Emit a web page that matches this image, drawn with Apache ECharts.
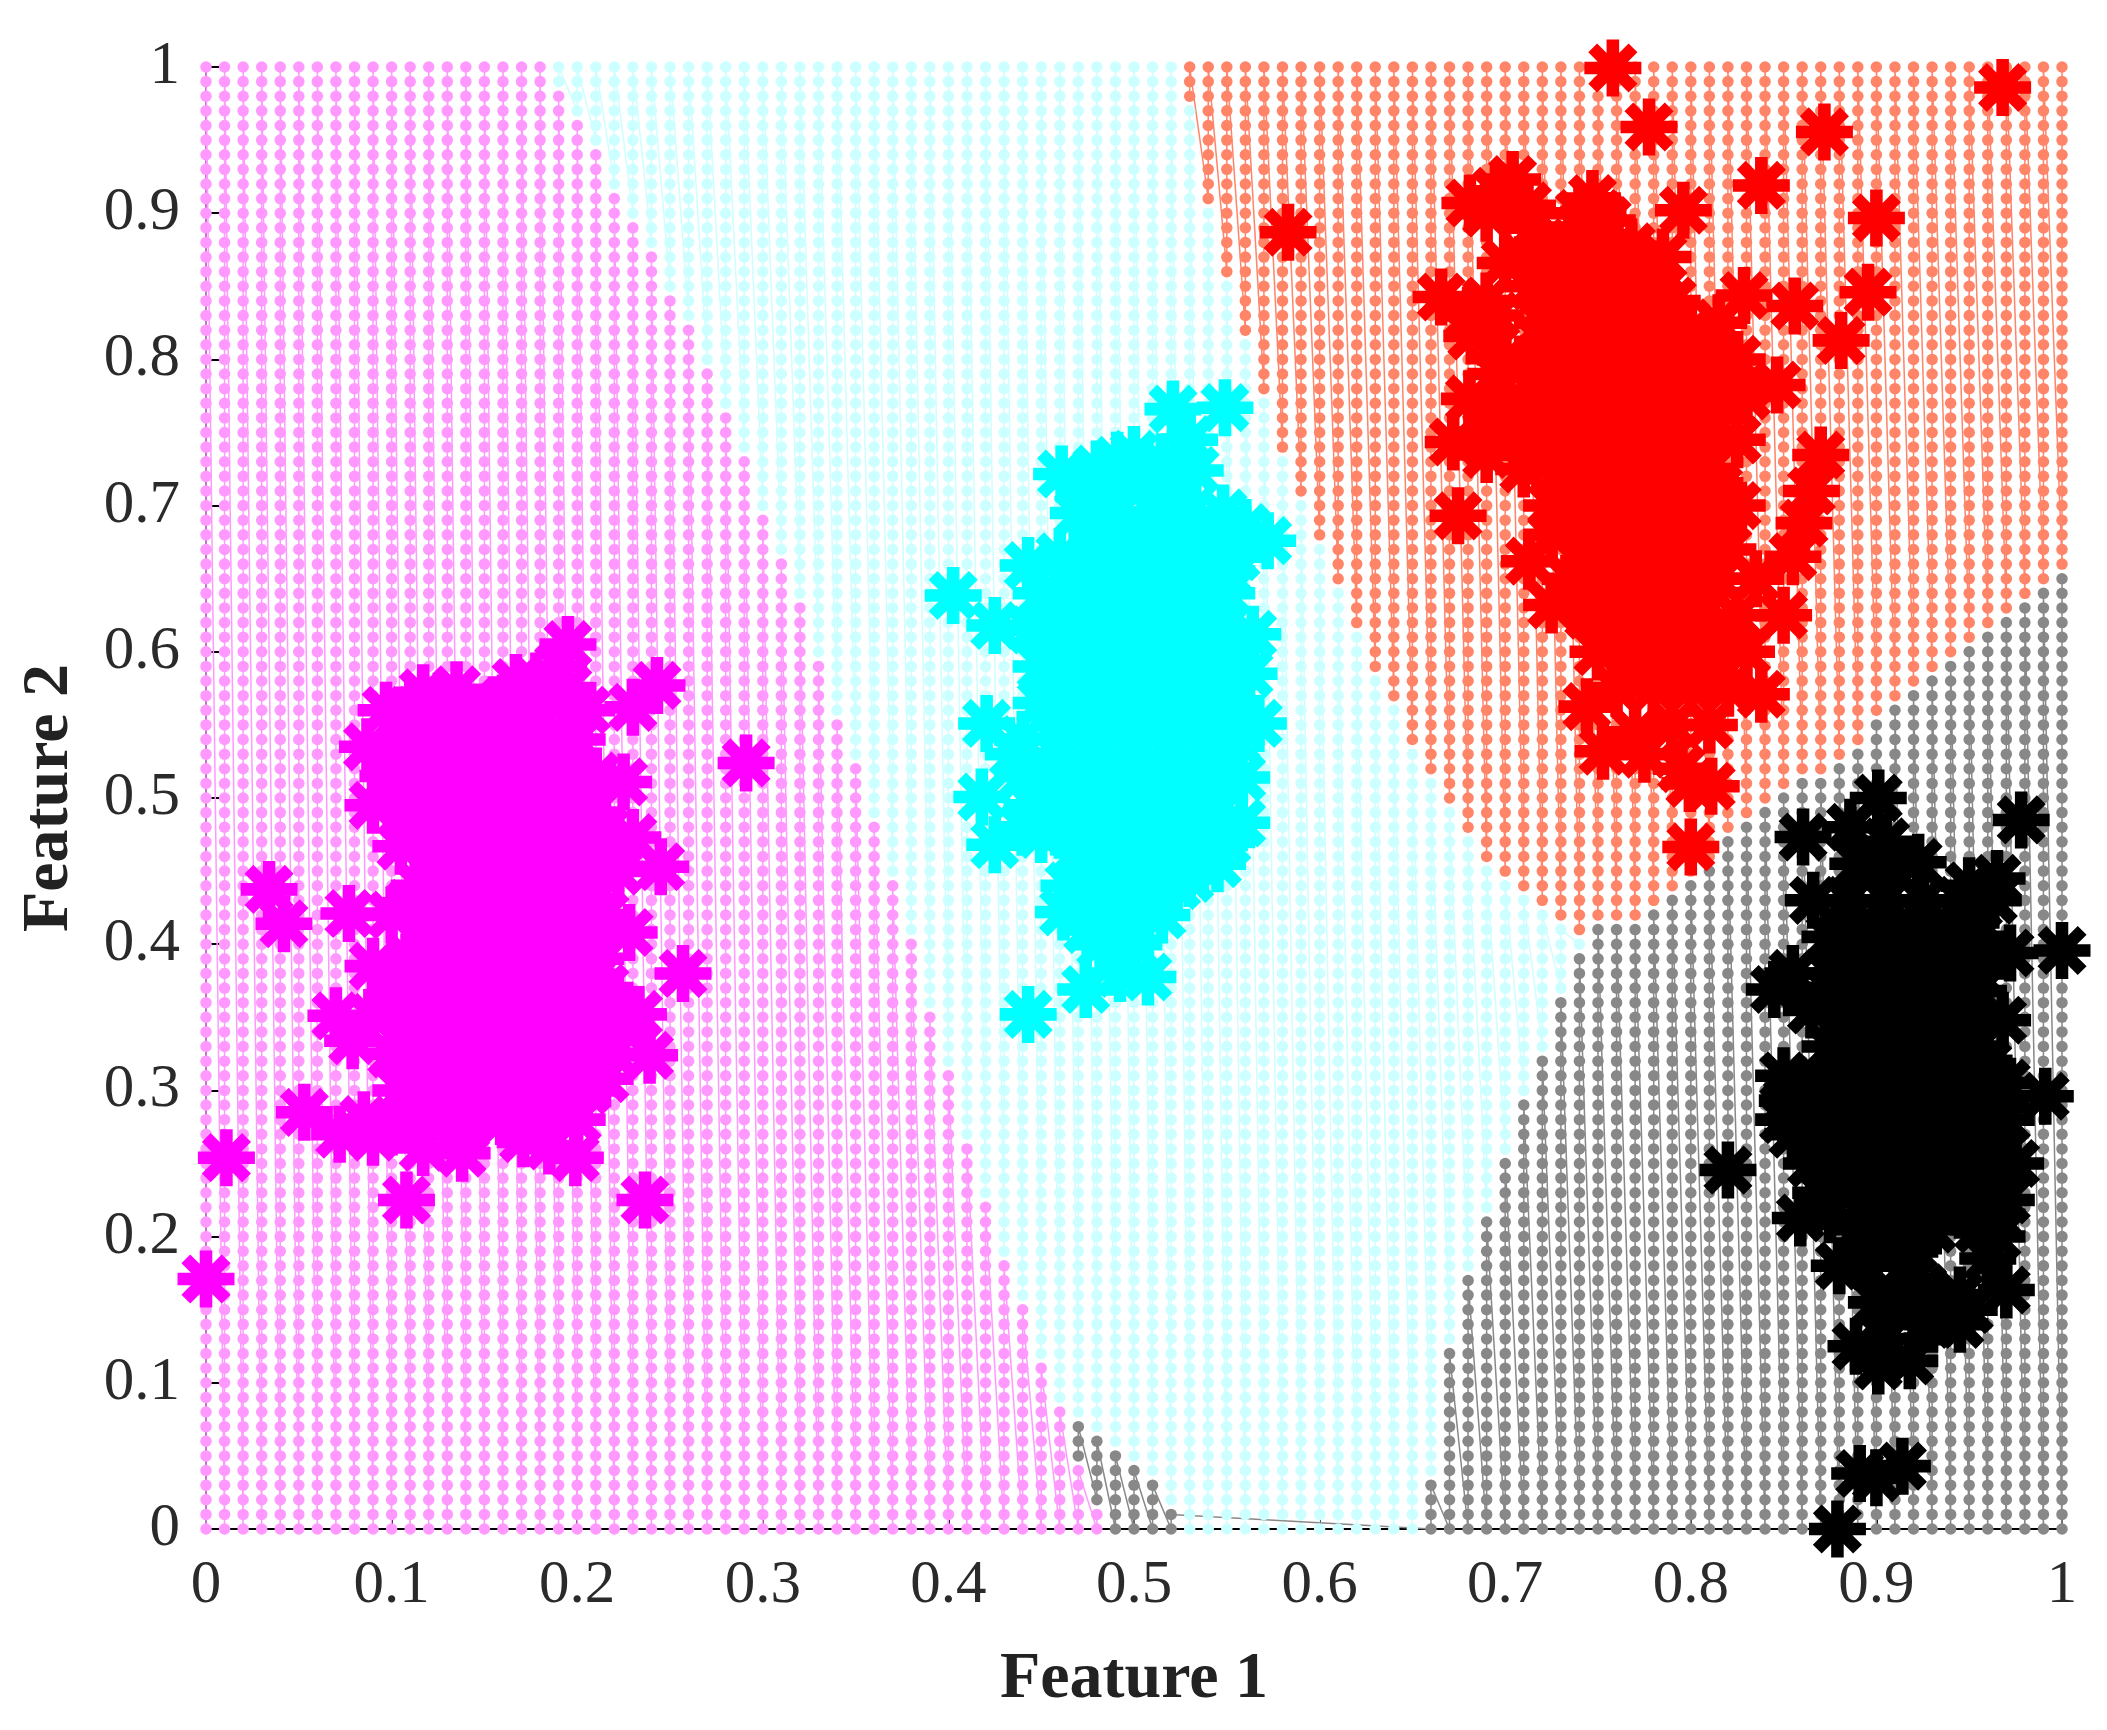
<!DOCTYPE html>
<html>
<head>
<meta charset="utf-8">
<title>Feature scatter</title>
<script src="https://cdn.jsdelivr.net/npm/echarts@6/dist/echarts.min.js"></script>
<style>
html, body { margin: 0; padding: 0; background: #fff; }
#chart { width: 2107px; height: 1730px; }
</style>
</head>
<body>
<div id="chart"></div>
<script>
// decision regions, one entry per grid column (feature 1 = 0.00 .. 1.00), in hundredths of feature 2. -1 = column has none
var magentaTop = [100,100,100,100,100,100,100,100,100,100,100,100,100,100,100,100,100,100,100,
    98,96,94,91,89,87,84,82,79,76,73,69,66,63,59,55,52,48,44,40,35,31,26,22,18,15,11,8,4,1,
    -1,-1,-1,-1,-1,-1,-1,-1,-1,-1,-1,-1,-1,-1,-1,-1,-1,-1,-1,-1,-1,-1,-1,-1,-1,-1,
    -1,-1,-1,-1,-1,-1,-1,-1,-1,-1,-1,-1,-1,-1,-1,-1,-1,-1,-1,-1,-1,-1,-1,-1,-1,-1];
var greyTop = [-1,-1,-1,-1,-1,-1,-1,-1,-1,-1,-1,-1,-1,-1,-1,-1,-1,-1,-1,-1,-1,-1,-1,-1,-1,
    -1,-1,-1,-1,-1,-1,-1,-1,-1,-1,-1,-1,-1,-1,-1,-1,-1,-1,-1,-1,-1,-1,
    7,6,5,4,3,1,-1,-1,-1,-1,-1,-1,-1,-1,-1,-1,-1,-1,-1,
    3,12,17,21,25,29,32,36,39,41,41,41,42,43,44,45,47,48,49,50,51,51,52,53,
    55,56,57,58,59,60,61,62,63,64,65];
var orangeBottom = [101,101,101,101,101,101,101,101,101,101,101,101,101,101,101,101,101,101,101,101,
    101,101,101,101,101,101,101,101,101,101,101,101,101,101,101,101,101,101,101,101,
    101,101,101,101,101,101,101,101,101,101,101,101,101,
    98,91,86,82,78,74,71,68,65,62,59,57,54,52,50,48,46,45,44,43,42,41,42,42,42,43,44,45,46,
    48,49,50,51,52,52,53,54,56,57,58,59,60,61,62,63,64,65,66];

// training samples [feature 1, feature 2]
var magentaStars = [
    [.097,.56],[.117,.572],[.135,.574],[.15,.555],[.167,.579],[.185,.565],[.195,.605],[.205,.56],[.23,.562],[.243,.577],
    [.11,.56],[.125,.56],[.14,.56],[.16,.565],[.175,.565],[.195,.575],[.19,.59],[.178,.58],
    [.087,.535],[.105,.54],[.125,.545],[.145,.535],[.165,.545],[.185,.54],[.2,.54],
    [.098,.515],[.115,.515],[.135,.515],[.155,.515],[.175,.515],[.195,.51],[.21,.515],[.225,.511],
    [.09,.495],[.108,.49],[.128,.49],[.148,.49],[.168,.49],[.188,.49],[.208,.49],
    [.105,.467],[.125,.465],[.145,.465],[.165,.465],[.185,.465],[.205,.465],[.222,.47],[.23,.473],[.245,.453],
    [.115,.44],[.135,.44],[.155,.44],[.175,.44],[.195,.44],[.21,.44],[.222,.45],
    [.077,.421],[.1,.42],[.12,.415],[.14,.415],[.16,.415],[.18,.415],[.2,.415],[.215,.42],[.228,.408],
    [.09,.385],[.11,.39],[.13,.39],[.15,.39],[.17,.39],[.19,.39],[.21,.39],
    [.1,.365],[.12,.365],[.14,.365],[.16,.365],[.18,.365],[.2,.365],[.215,.37],
    [.07,.351],[.09,.35],[.11,.345],[.13,.342],[.15,.342],[.17,.342],[.19,.342],[.21,.345],[.233,.352],
    [.079,.334],[.1,.325],[.12,.32],[.14,.32],[.16,.32],[.18,.32],[.2,.32],[.22,.325],[.239,.324],
    [.105,.3],[.125,.295],[.145,.295],[.165,.295],[.185,.295],[.205,.3],
    [.053,.285],[.085,.28],[.1,.275],[.12,.278],[.14,.275],[.16,.28],[.18,.28],[.2,.28],
    [.072,.27],[.09,.268],[.117,.261],[.138,.257],[.171,.267],[.199,.254],[.185,.262],
    [0,.171],[.011,.254],[.108,.225],[.2365,.225],[.291,.524],[.257,.38],[.034,.4375],[.042,.414]
];
var cyanStars = [
    [.461,.7216],[.478,.71],[.491,.731],[.505,.72],[.533,.724],[.52,.71],[.521,.766],[.549,.767],[.53,.745],
    [.47,.715],[.48,.725],[.5,.735],[.515,.73],[.49,.715],
    [.47,.695],[.49,.695],[.51,.695],[.53,.695],[.548,.695],[.56,.685],[.572,.676],
    [.443,.659],[.46,.665],[.48,.668],[.5,.668],[.52,.668],[.54,.668],[.555,.665],
    [.4026,.6385],[.45,.64],[.47,.64],[.49,.64],[.51,.64],[.53,.64],[.55,.64],
    [.425,.618],[.445,.615],[.465,.615],[.485,.615],[.505,.615],[.525,.615],[.545,.615],[.564,.612],
    [.45,.59],[.47,.59],[.49,.59],[.51,.59],[.53,.59],[.55,.59],[.562,.585],
    [.45,.565],[.47,.565],[.49,.565],[.51,.565],[.53,.565],[.55,.565],
    [.4206,.551],[.435,.53],[.44,.54],[.46,.54],[.48,.54],[.5,.54],[.52,.54],[.54,.54],[.567,.551],[.555,.54],
    [.44,.515],[.45,.515],[.47,.515],[.49,.515],[.51,.515],[.53,.515],[.558,.514],[.545,.515],
    [.418,.5007],[.445,.495],[.465,.49],[.485,.49],[.505,.49],[.525,.49],[.545,.49],[.558,.483],
    [.425,.468],[.44,.48],[.45,.475],[.47,.465],[.49,.465],[.51,.465],[.53,.465],[.537,.457],[.55,.47],[.545,.455],
    [.465,.44],[.485,.44],[.505,.44],[.523,.44],[.53,.445],
    [.462,.422],[.48,.415],[.5,.415],[.515,.42],[.47,.425],[.475,.41],[.5,.4],
    [.482,.40],[.4925,.38],[.474,.369],[.5075,.3776],[.443,.352]
];
var redStars = [
    [.758,.9993],[.7775,.959],[.872,.9556],[.968,.986],[.838,.919],[.90,.8967],[.8955,.846],[.881,.813],[.856,.8365],[.8465,.7825],
    [.796,.902],[.681,.907],[.704,.923],[.747,.91],[.6655,.8427],[.682,.816],[.6807,.773],[.672,.7435],[.6746,.693],
    [.69,.9],[.70,.905],[.712,.905],[.695,.915],[.74,.9],[.75,.9],[.755,.895],[.74,.89],[.715,.89],[.725,.87],[.69,.84],[.68,.83],
    [.87,.7346],[.865,.71],[.861,.688],[.855,.665],[.835,.65],[.85,.625],[.838,.571],[.583,.887],
    [.72,.88],[.74,.875],[.755,.885],[.768,.877],[.785,.87],[.71,.87],
    [.70,.866],[.715,.85],[.735,.85],[.755,.85],[.775,.85],[.79,.84],
    [.695,.83],[.72,.825],[.74,.825],[.76,.825],[.78,.825],[.80,.82],[.815,.825],[.8287,.8437],
    [.70,.8],[.695,.79],[.71,.795],[.73,.80],[.75,.80],[.77,.80],[.79,.80],[.81,.80],[.825,.80],
    [.70,.77],[.72,.775],[.74,.775],[.76,.775],[.78,.775],[.80,.775],[.82,.775],[.83,.775],
    [.69,.75],[.70,.75],[.71,.75],[.73,.75],[.75,.75],[.77,.75],[.79,.75],[.81,.75],[.825,.745],
    [.69,.735],[.71,.725],[.73,.725],[.75,.725],[.77,.725],[.79,.725],[.81,.725],
    [.725,.70],[.745,.70],[.765,.70],[.785,.70],[.805,.70],[.825,.70],
    [.725,.68],[.745,.675],[.765,.675],[.785,.675],[.805,.675],[.82,.67],
    [.713,.662],[.735,.65],[.755,.65],[.775,.65],[.795,.65],[.815,.65],
    [.725,.632],[.745,.625],[.765,.625],[.785,.625],[.805,.625],[.825,.625],
    [.75,.60],[.77,.60],[.79,.60],[.81,.60],[.83,.60],
    [.744,.5625],[.76,.575],[.78,.575],[.80,.575],[.82,.575],
    [.7527,.532],[.77,.545],[.79,.55],[.81,.55],
    [.775,.53],[.795,.52],[.7995,.51],[.811,.508],[.80,.4665]
];
var blackStars = [
    [.8605,.4733],[.886,.48],[.901,.50],[.905,.47],[.9225,.456],[.89,.455],[.965,.445],[.978,.485],[.95,.44],[.91,.45],
    [.866,.43],[.885,.43],[.905,.43],[.925,.43],[.945,.43],[.963,.43],
    [.875,.405],[.895,.405],[.915,.405],[.935,.405],[.955,.405],[.972,.394],[1,.3957],
    [.855,.38],[.875,.38],[.895,.38],[.915,.38],[.935,.38],[.955,.38],
    [.845,.369],[.865,.355],[.885,.355],[.905,.355],[.925,.355],[.945,.355],[.968,.348],
    [.875,.33],[.895,.33],[.915,.33],[.935,.33],[.955,.33],
    [.852,.293],[.85,.31],[.87,.305],[.89,.305],[.91,.305],[.93,.305],[.95,.305],[.97,.305],[.991,.296],
    [.85,.28],[.855,.27],[.875,.28],[.895,.28],[.915,.28],[.935,.28],[.955,.28],[.97,.28],
    [.865,.25],[.885,.255],[.905,.255],[.925,.255],[.945,.255],[.965,.255],[.975,.25],
    [.87,.23],[.88,.23],[.9,.23],[.92,.23],[.94,.23],[.96,.23],[.97,.225],
    [.859,.2127],[.875,.215],[.89,.205],[.91,.205],[.93,.205],[.955,.205],[.965,.2],[.965,.215],
    [.88,.18],[.895,.18],[.915,.18],[.925,.165],[.96,.185],[.97,.1635],[.95,.15],[.945,.16],
    [.9,.155],[.92,.15],[.91,.16],[.935,.145],[.93,.14],[.945,.14],
    [.889,.125],[.901,.1115],[.918,.115],[.905,.13],[.891,.038],[.914,.043],[.9,.035],[.879,0],[.82,.2455]
];

// samples buried inside the clusters, one row per line: feature 2 first, then its feature 1 values
var magentaInner = [
    [.55,.12,.14,.16,.18],[.528,.115,.135,.155,.175,.195],[.503,.105,.125,.145,.165,.185,.205],
    [.478,.115,.135,.155,.175,.195,.215],[.453,.125,.145,.165,.185,.205],[.428,.11,.13,.15,.17,.19,.205],
    [.403,.12,.14,.16,.18,.2],[.378,.11,.13,.15,.17,.19,.21],[.353,.12,.14,.16,.18,.2,.22],
    [.333,.11,.13,.15,.17,.19,.21],[.308,.115,.135,.155,.175,.195,.215],[.285,.11,.13,.15,.17,.19]
];
var cyanInner = [
    [.68,.48,.5,.52,.54],[.655,.47,.49,.51,.53,.55],[.628,.46,.48,.5,.52,.54],
    [.603,.46,.48,.5,.52,.54,.555],[.578,.46,.48,.5,.52,.54,.555],[.553,.46,.48,.5,.52,.54],
    [.528,.46,.48,.5,.52,.54],[.503,.46,.48,.5,.52,.54],[.478,.46,.48,.5,.52,.54],
    [.453,.475,.495,.515],[.428,.49,.51]
];
var redInner = [
    [.86,.725,.745,.765],[.838,.725,.745,.765,.785],[.812,.72,.74,.76,.78,.8],
    [.788,.72,.74,.76,.78,.8,.82],[.762,.71,.73,.75,.77,.79,.81],[.738,.72,.74,.76,.78,.8],
    [.712,.735,.755,.775,.795,.815],[.688,.735,.755,.775,.795,.815],[.662,.745,.765,.785,.805],
    [.638,.745,.765,.785,.805],[.612,.76,.78,.8,.82],[.588,.77,.79,.81]
];
var blackInner = [
    [.418,.885,.905,.925,.945],[.392,.885,.905,.925,.945],[.368,.875,.895,.915,.935,.955],
    [.342,.885,.905,.925,.945],[.318,.88,.9,.92,.94,.96],[.292,.865,.885,.905,.925,.945,.965],
    [.268,.875,.895,.915,.935,.955],[.242,.89,.91,.93,.95,.965],[.218,.9,.92,.945],[.192,.9,.92]
];

var starPath = 'path://M-50 -11L50 -11L50 11L-50 11Z' +
    'M11 -50L11 50L-11 50L-11 -50Z' +
    'M-27.6 -43.1L43.1 27.6L27.6 43.1L-43.1 -27.6Z' +
    'M43.1 -27.6L-27.6 43.1L-43.1 27.6L27.6 -43.1Z';

// each region is walked column by column, bottom to top, like the original plot
function regionPoints(lowOf, highOf) {
    var points = [];
    for (var col = 0; col <= 100; col++) {
        var low = lowOf(col), high = highOf(col);
        for (var row = low; row <= high; row++) {
            points.push([col / 100, row / 100]);
        }
    }
    return points;
}

var magentaRegion = regionPoints(function () { return 0; }, function (c) { return magentaTop[c]; });
var greyRegion = regionPoints(function (c) { return magentaTop[c] + 1; }, function (c) { return greyTop[c]; });
var orangeRegion = regionPoints(function (c) { return orangeBottom[c]; }, function () { return 100; });
var cyanRegion = regionPoints(function (c) {
    return Math.max(magentaTop[c], greyTop[c]) + 1;
}, function (c) { return orangeBottom[c] - 1; });

function withInner(stars, innerRows) {
    var points = stars.slice();
    for (var r = 0; r < innerRows.length; r++) {
        for (var k = 1; k < innerRows[r].length; k++) {
            points.push([innerRows[r][k], innerRows[r][0]]);
        }
    }
    return points;
}

function regionSeries(points, color) {
    return {
        type: 'line',
        data: points,
        showSymbol: true,
        showAllSymbol: true,
        symbol: 'circle',
        symbolSize: 11.5,
        clip: false,
        silent: true,
        sampling: null,
        lineStyle: {color: color, width: 1.5},
        itemStyle: {color: color}
    };
}

function starSeries(points, color) {
    return {
        type: 'scatter',
        data: points,
        symbol: starPath,
        symbolSize: 57,
        clip: false,
        silent: true,
        z: 5,
        itemStyle: {color: color, opacity: 1}
    };
}

function axis(name, gap, rotate) {
    return {
        type: 'value',
        min: 0,
        max: 1,
        interval: 0.1,
        name: name,
        nameLocation: 'middle',
        nameGap: gap,
        nameRotate: rotate,
        nameTextStyle: {fontFamily: 'Liberation Serif', fontWeight: 'bold', fontSize: 66, color: '#222'},
        axisLine: {show: true, lineStyle: {color: '#000', width: 2}},
        axisTick: {show: true, inside: true, length: 14, lineStyle: {color: '#000', width: 2}},
        axisLabel: {fontFamily: 'Liberation Serif', fontSize: 61, color: '#2a2a2a', margin: 26},
        splitLine: {show: false}
    };
}

var ech = echarts.init(document.getElementById('chart'));
ech.setOption({
    animation: false,
    backgroundColor: '#fff',
    grid: {left: 206, right: 45, top: 67, bottom: 201},
    xAxis: axis('Feature 1', 118, 0),
    yAxis: axis('Feature 2', 123, 90),
    series: [
        regionSeries(magentaRegion, '#ff99ff'),
        regionSeries(cyanRegion, '#ccffff'),
        regionSeries(orangeRegion, '#ff8468'),
        regionSeries(greyRegion, '#888888'),
        starSeries(withInner(magentaStars, magentaInner), '#ff00ff'),
        starSeries(withInner(cyanStars, cyanInner), '#00ffff'),
        starSeries(withInner(redStars, redInner), '#ff0000'),
        starSeries(withInner(blackStars, blackInner), '#000000')
    ]
});
</script>
</body>
</html>
